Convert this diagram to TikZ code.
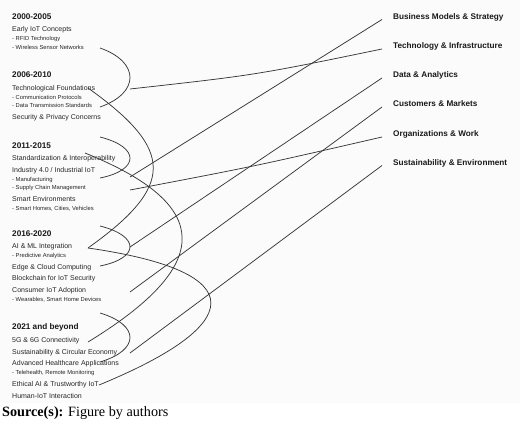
\documentclass[tikz,border=0pt]{standalone}
\usepackage{fontspec}
\setmainfont{Liberation Serif}
\newfontfamily\arialf{Liberation Sans}
\begin{document}
\begin{tikzpicture}[x=1pt,y=-1pt,
 item/.style={anchor=west,inner sep=0pt,font=\arialf\fontsize{7}{8}\selectfont,text height=5pt,text depth=0pt,text=black!85},
 sub/.style={anchor=west,inner sep=0pt,font=\arialf\fontsize{5.8}{7}\selectfont,text height=4.1pt,text depth=0pt,text=black!85},
 head/.style={anchor=west,inner sep=0pt,font=\arialf\bfseries\fontsize{8.2}{9}\selectfont,text height=5.9pt,text depth=0pt,text=black!90},
 theme/.style={head},
 link/.style={draw=black!78,line width=0.75pt}]
\useasboundingbox (0,0) rectangle (520,426);
\fill[black!1.5] (0,0) rectangle (520,403);

% left column
\node[head] (y1) at (12,17) {2000-2005};
\node[item] (i11) at (12,29) {Early IoT Concepts};
\node[sub] (s111) at (12,38) {- RFID Technology};
\node[sub] (s112) at (12,47) {- Wireless Sensor Networks};
\node[head] (y2) at (12,75) {2006-2010};
\node[item] (i21) at (12,88) {Technological Foundations};
\node[sub] (s211) at (12,97) {- Communication Protocols};
\node[sub] (s212) at (12,105) {- Data Transmission Standards};
\node[item] (i22) at (12,117) {Security \& Privacy Concerns};
\node[head] (y3) at (12,146) {2011-2015};
\node[item] (i31) at (12,158) {Standardization \& Interoperability};
\node[item] (i32) at (12,170) {Industry 4.0 / Industrial IoT};
\node[sub] (s321) at (12,179) {- Manufacturing};
\node[sub] (s322) at (12,187) {- Supply Chain Management};
\node[item] (i33) at (12,199) {Smart Environments};
\node[sub] (s331) at (12,208) {- Smart Homes, Cities, Vehicles};
\node[head] (y4) at (12,234) {2016-2020};
\node[item] (i41) at (12,246) {AI \& ML Integration};
\node[sub] (s411) at (12,255) {- Predictive Analytics};
\node[item] (i42) at (12,267) {Edge \& Cloud Computing};
\node[item] (i43) at (12,278) {Blockchain for IoT Security};
\node[item] (i44) at (12,290) {Consumer IoT Adoption};
\node[sub] (s441) at (12,299) {- Wearables, Smart Home Devices};
\node[head] (y5) at (12,327) {2021 and beyond};
\node[item] (i51) at (12,340) {5G \& 6G Connectivity};
\node[item] (i52) at (12,352) {Sustainability \& Circular Economy};
\node[item] (i53) at (12,363) {Advanced Healthcare Applications};
\node[sub] (s531) at (12,372) {- Telehealth, Remote Monitoring};
\node[item] (i54) at (12,384) {Ethical AI \& Trustworthy IoT};
\node[item] (i55) at (12,396) {Human-IoT Interaction};

% right column
\node[theme] (t1) at (393,17) {Business Models \& Strategy};
\node[theme] (t2) at (393,46) {Technology \& Infrastructure};
\node[theme] (t3) at (393,75) {Data \& Analytics};
\node[theme] (t4) at (393,104) {Customers \& Markets};
\node[theme] (t5) at (393,134) {Organizations \& Work};
\node[theme] (t6) at (393,163) {Sustainability \& Environment};

\node[anchor=west,inner sep=0pt,font=\fontsize{14.2}{16}\selectfont] (src) at (2,413) {\textbf{Source(s):} Figure by authors};

% connector end points
\coordinate (e1) at (382,19.5);
\coordinate (e2) at (382,49);
\coordinate (e3) at (382,78);
\coordinate (e4) at (382,107);
\coordinate (e5) at (382,137);
\coordinate (e6) at (382,165.5);

\coordinate (a1) at (100,48);   \coordinate (a2) at (100,107);
\coordinate (b1) at (130,89);
\coordinate (c1) at (88,88);    \coordinate (c2) at (88,248);
\coordinate (d1) at (100,137);  \coordinate (d2) at (100,178);
\coordinate (f1) at (130,177);
\coordinate (g1) at (130,190);
\coordinate (h1) at (85,153);   \coordinate (h2) at (88,342);
\coordinate (k1) at (100,226);  \coordinate (k2) at (100,266);
\coordinate (m1) at (130,247);
\coordinate (n1) at (130,292);
\coordinate (p2) at (99,385);
\coordinate (q1) at (100,313);  \coordinate (q2) at (100,362);
\coordinate (r1) at (130,353);

% connectors
\draw[link] (a1) .. controls (140,62) and (140,93) .. (a2);
\draw[link] (b1) .. controls (256,75) .. (e2);
\draw[link] (c1) .. controls (175,150) and (175,186) .. (c2);
\draw[link] (d1) .. controls (140,147) and (140,170) .. (d2);
\draw[link] (f1) -- (e1);
\draw[link] (g1) .. controls (256,166) .. (e5);
\draw[link] (h1) .. controls (214,205) and (214,265) .. (h2);
\draw[link] (k1) .. controls (140,236) and (140,258) .. (k2);
\draw[link] (m1) -- (e3);
\draw[link] (n1) -- (e4);
\draw[link] (c2) .. controls (255,272) and (245,325) .. (p2);
\draw[link] (q1) .. controls (140,325) and (140,350) .. (q2);
\draw[link] (r1) -- (e6);
\end{tikzpicture}
\end{document}
